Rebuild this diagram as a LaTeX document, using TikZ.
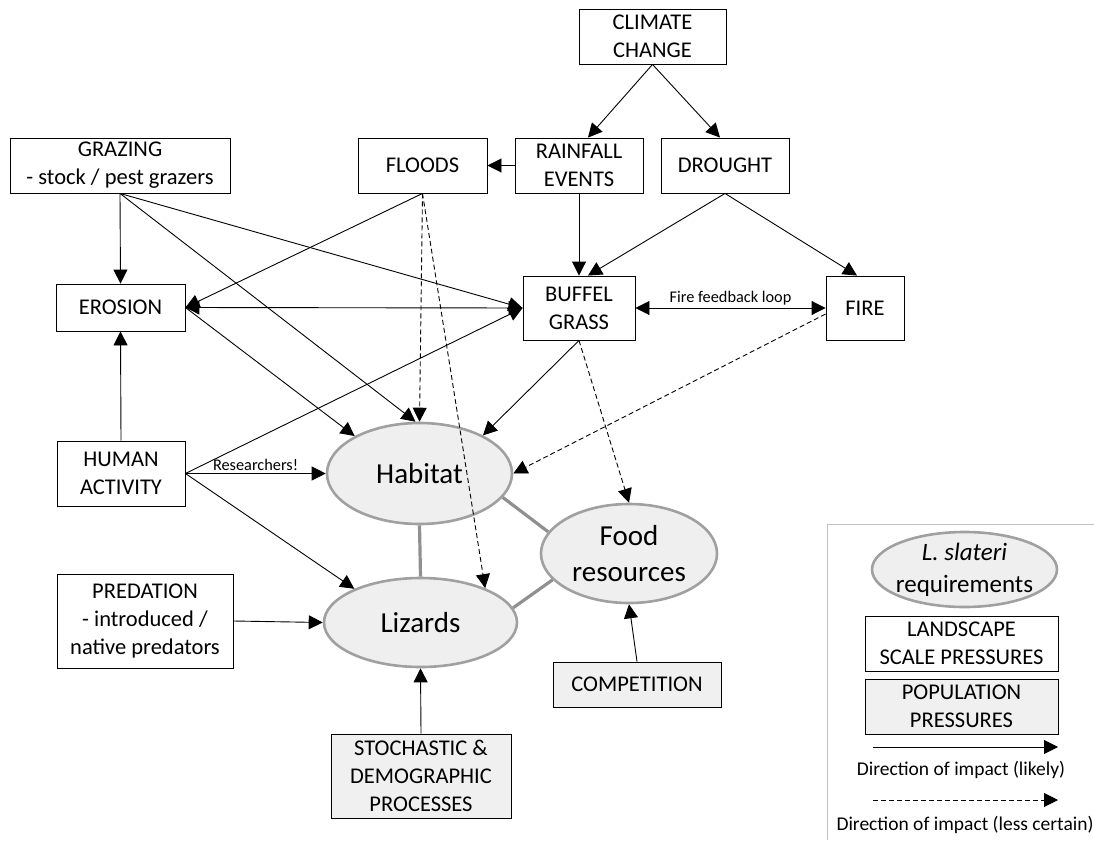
\documentclass[tikz,border=0pt]{standalone}
\usepackage{fontspec}
\setmainfont{Carlito}
\usetikzlibrary{arrows.meta,shapes.geometric}
\definecolor{popfill}{HTML}{F0F0F0}
\definecolor{ellfill}{HTML}{EFEFEF}
\definecolor{ellline}{HTML}{A0A0A0}
\definecolor{linkgray}{HTML}{909090}
\definecolor{legline}{HTML}{C0C0C0}
\tikzset{
  boxnode/.style={draw=black, line width=0.9pt, rectangle, inner sep=0pt, align=center,
    font=\fontsize{22.5}{28}\selectfont},
  popnode/.style={boxnode, fill=popfill},
  reqnode/.style={ellipse, draw=ellline, fill=ellfill, line width=2.6pt, inner sep=0pt},
  reqtext/.style={align=center, inner sep=0pt, font=\fontsize{29}{36}\selectfont},
  arr/.style={line width=0.9pt, -{Triangle[length=14pt,width=14pt]}},
  darr/.style={line width=0.9pt, {Triangle[length=14pt,width=14pt]}-{Triangle[length=14pt,width=14pt]}},
  dasharr/.style={arr, dash pattern=on 5pt off 3pt},
  glink/.style={draw=linkgray, line width=3.2pt},
  smalllab/.style={font=\fontsize{16.3}{19}\selectfont, inner sep=2pt},
  legtext/.style={font=\fontsize{19.5}{23}\selectfont, inner sep=0pt}
}
\begin{document}
\begin{tikzpicture}[x=1pt, y=-1pt]
\useasboundingbox (0,0) rectangle (1094,840);

% boxes
\node[boxnode, minimum width=147pt, minimum height=55pt] (cc) at (652.5,36.5) {CLIMATE\\CHANGE};
\node[boxnode, minimum width=220pt, minimum height=55pt] (graz) at (120,165.5) {GRAZING\\- stock / pest grazers};
\node[boxnode, minimum width=129pt, minimum height=55pt] (floods) at (422.5,165.5) {FLOODS};
\node[boxnode, minimum width=128pt, minimum height=55pt] (rain) at (579,165.5) {RAINFALL\\EVENTS};
\node[boxnode, minimum width=128pt, minimum height=55pt] (drought) at (725,165.5) {DROUGHT};
\node[boxnode, minimum width=129pt, minimum height=47pt] (eros) at (120.5,307.5) {EROSION};
\node[boxnode, minimum width=112pt, minimum height=64pt] (buffel) at (579,308) {BUFFEL\\GRASS};
\node[boxnode, minimum width=78pt, minimum height=64pt] (fire) at (865,308) {FIRE};
\node[boxnode, minimum width=128pt, minimum height=65pt] (human) at (121,473.5) {HUMAN\\ACTIVITY};
\node[boxnode, minimum width=176pt, minimum height=94pt] (pred) at (145,621) {PREDATION\\- introduced /\\native predators};
\node[popnode, minimum width=180pt, minimum height=84pt] (stoch) at (421,776) {STOCHASTIC \&\\DEMOGRAPHIC\\PROCESSES};
\node[popnode, minimum width=168pt, minimum height=45pt] (comp) at (637,684.5) {COMPETITION};

% requirement ellipses
\node[reqnode, minimum width=185pt, minimum height=101pt] (hab) at (419.5,473.5) {};
\node[reqtext] (habt) at (hab) {Habitat};
\node[reqnode, minimum width=193pt, minimum height=89pt] (liz) at (420.5,622.5) {};
\node[reqtext] (lizt) at (liz) {Lizards};
\node[reqnode, minimum width=176pt, minimum height=99pt] (food) at (629,553.5) {};
\node[reqtext] (foodt) at (food) {Food\\resources};

% gray links between requirements
\draw[glink] (hab.south) -- (liz.north);
\draw[glink] (hab.-16) -- (food.165);
\draw[glink] (liz.9) -- (food.199);

% arrows
\draw[arr] (cc.south) -- ([xshift=9pt]rain.north);
\draw[arr] (cc.south) -- ([xshift=-5pt]drought.north);
\draw[arr] (rain.west) -- (floods.east);
\draw[arr] (rain.south) -- (buffel.north);
\draw[arr] (drought.south) -- ([xshift=9pt]buffel.north);
\draw[arr] (drought.south) -- ([xshift=-8pt]fire.north);
\draw[arr] (graz.south) -- (eros.north);
\draw[arr] (graz.south) -- ([xshift=-4pt]hab.north);
\draw[arr] (graz.south) -- (buffel.west);
\draw[arr] (floods.south) -- (eros.east);
\draw[dasharr] (floods.south) -- (hab.north);
\draw[dasharr] (floods.south) -- (liz.28);
\draw[darr] (eros.east) -- (buffel.west);
\draw[arr] (eros.east) -- (hab.150);
\draw[arr] (human.north) -- (eros.south);
\draw[arr] (human.east) -- (buffel.west);
\draw[arr] (human.east) -- node[smalllab, above] {Researchers!} (hab.west);
\draw[arr] (human.east) -- (liz.153);
\draw[arr] (buffel.south) -- (hab.31);
\draw[dasharr] (buffel.south) -- (food.north);
\draw[darr] (buffel.east) -- node[smalllab, above] {Fire feedback loop} (fire.west);
\draw[dasharr] ([yshift=-6pt]fire.west) -- (hab.east);
\draw[arr] (pred.east) -- (liz.west);
\draw[arr] (stoch.north) -- (liz.south);
\draw[arr] (comp.north) -- (food.south);

% legend
\coordinate (lgbl) at (827,840);
\coordinate (lgtl) at (827,524);
\coordinate (lgtr) at (1094,524);
\draw[legline, line width=0.8pt] (lgbl) -- (lgtl) -- (lgtr);
\node[reqnode, minimum width=185pt, minimum height=75pt] (legell) at (964.5,569.5) {};
\node[align=center, inner sep=0pt, font=\fontsize{25}{32}\selectfont] (legellt) at (legell) {\textit{L. slateri}\\requirements};
\node[boxnode, minimum width=193pt, minimum height=55pt] (legland) at (961.5,643.5) {LANDSCAPE\\SCALE PRESSURES};
\node[popnode, minimum width=193pt, minimum height=55pt] (legpop) at (961.5,706.5) {POPULATION\\PRESSURES};
\coordinate (la1) at (873,747);
\coordinate (lb1) at (1058,747);
\draw[arr] (la1) -- (lb1);
\node[legtext] (lt1) at (961,770) {Direction of impact (likely)};
\coordinate (la2) at (873,800);
\coordinate (lb2) at (1058,800);
\draw[dasharr] (la2) -- (lb2);
\node[legtext] (lt2) at (965,825) {Direction of impact (less certain)};
\end{tikzpicture}
\end{document}
